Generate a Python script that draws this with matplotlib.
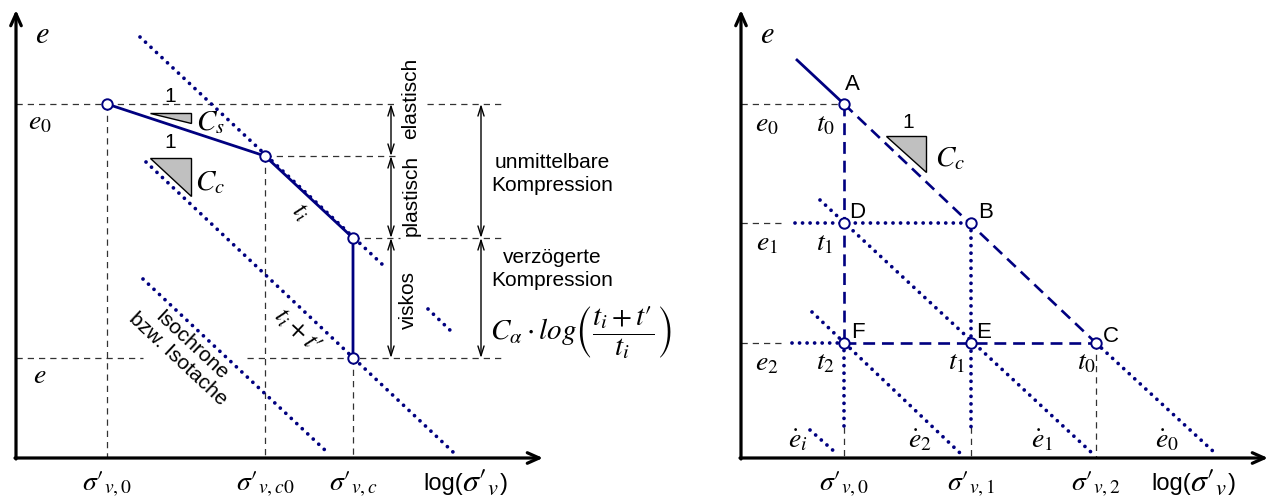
import matplotlib
matplotlib.use("Agg")
import matplotlib.pyplot as plt
from matplotlib.patches import Polygon

plt.rcParams["mathtext.fontset"] = "stix"
plt.rcParams["font.family"] = ["Liberation Sans", "DejaVu Sans"]

NAVY = "#000080"
W, H = 1273, 500
PR = "\u2032"  # prime sign

# ---------------- left diagram: e - log(sigma'_v) with creep ----------------
axis_left = dict(x0=16, y0=458, xtip=543, ytip=10)
sig_left = [107, 265, 353]
sig_left_labels = ["$\\sigma" + PR + "_{v,\\mathit{0}}$",
                   "$\\sigma" + PR + "_{v,c\\mathit{0}}$",
                   "$\\sigma" + PR + "_{v,c}$"]
e_left = [104, 156, 238, 358]
path_x = [107, 265, 353, 353]
path_y = [104, 156, 238, 358]
iso_left = [((140, 37), (384, 266)),
            ((146, 162), (453, 452)),
            ((143, 279), (327, 452)),
            ((428, 309), (453, 333))]

# ---------------- right diagram: isotaches ----------------
axis_right = dict(x0=741, y0=458, xtip=1268, ytip=10)
pts = {"A": (844, 104), "B": (971, 223), "C": (1096, 343),
       "D": (844, 223), "E": (971, 343), "F": (844, 343)}
sig_right = [844, 971, 1096]
sig_right_labels = ["$\\sigma" + PR + "_{v,\\mathit{0}}$",
                    "$\\sigma" + PR + "_{v,\\mathit{1}}$",
                    "$\\sigma" + PR + "_{v,\\mathit{2}}$"]
e_right = [104, 223, 343]
iso_right = [((820, 200), (1092, 453)),
             ((812, 312), (960, 453)),
             ((1096, 343), (1215, 453)),
             ((810, 430), (836, 453))]

fig = plt.figure(figsize=(W / 100, H / 100), dpi=100)
ax = fig.add_axes([0, 0, 1, 1])
ax.set_xlim(0, W)
ax.set_ylim(H, 0)
ax.axis("off")

DOT = dict(color=NAVY, lw=2.7, linestyle=(0, (0.01, 2.0)), dash_capstyle="round", zorder=3)
NDASH = dict(color=NAVY, lw=1.9, linestyle=(0, (4.5, 2.6)), zorder=3)
KDASH = dict(color="#333333", lw=0.9, linestyle=(0, (5, 4)), zorder=1)
SOLID = dict(color=NAVY, lw=2.0, zorder=4)
CIRC = dict(marker="o", ms=7.5, mfc="white", mec=NAVY, mew=1.4, ls="none", zorder=6)
MATH = dict(fontsize=20, color="black")
SANS = dict(fontsize=15, color="black")


def axes_arrows(a):
    kw = dict(arrowstyle="->,head_length=0.85,head_width=0.38", lw=2.3, color="black",
              shrinkA=0, shrinkB=0)
    ax.annotate("", xy=(a["x0"], a["ytip"]), xytext=(a["x0"], a["y0"] + 1), arrowprops=kw)
    ax.annotate("", xy=(a["xtip"], a["y0"]), xytext=(a["x0"] - 1, a["y0"]), arrowprops=kw)


def dbl(x, y1, y2):
    ax.annotate("", xy=(x, y1), xytext=(x, y2),
                arrowprops=dict(arrowstyle="<->,head_length=0.7,head_width=0.22", lw=1.0,
                                color="black", shrinkA=0, shrinkB=0))


def slope_tri(x0, y0, x1, y1):
    ax.add_patch(Polygon([(x0, y0), (x1, y0), (x1, y1)], closed=True,
                         facecolor="#c0c0c0", edgecolor="black", lw=1.0, zorder=2))


def log_label(x, y):
    # sans "log(" and ")" around a larger serif sigma'
    ax.text(x - 9, y, "log(", ha="right", va="center", fontsize=17)
    ax.text(x - 10, y - 1, "$\\sigma" + PR + "_v$", ha="left", va="center", fontsize=23)
    ax.text(x + 28, y, ")", ha="left", va="center", fontsize=17)


# ---- left diagram ----
axes_arrows(axis_left)
ax.text(42, 35, r"$e$", ha="center", va="center", fontsize=22)

# helper dashed lines
ax.plot([16, 397], [e_left[0]] * 2, **KDASH)
ax.plot([427, 503], [e_left[0]] * 2, **KDASH)
ax.plot([path_x[1], 397], [e_left[1]] * 2, **KDASH)
ax.plot([path_x[2], 400], [e_left[2]] * 2, **KDASH)
ax.plot([427, 503], [e_left[2]] * 2, **KDASH)
ax.plot([16, 143], [e_left[3]] * 2, **KDASH)
ax.plot([247, 503], [e_left[3]] * 2, **KDASH)
ax.plot([sig_left[0]] * 2, [e_left[0], axis_left["y0"]], **KDASH)
ax.plot([sig_left[1]] * 2, [e_left[1], axis_left["y0"]], **KDASH)
ax.plot([sig_left[2]] * 2, [e_left[3], axis_left["y0"]], **KDASH)

for (p, q) in iso_left:
    ax.plot([p[0], q[0]], [p[1], q[1]], **DOT)

ax.plot(path_x, path_y, **SOLID)
ax.plot(path_x, path_y, **CIRC)

slope_tri(150, 113, 191, 123)
ax.text(170, 97, "1", ha="center", va="center", **SANS)
ax.text(196, 122, r"$C_s$", ha="left", va="center", fontsize=21)
slope_tri(150, 158, 191, 196)
ax.text(170, 142, "1", ha="center", va="center", **SANS)
ax.text(195, 182, r"$C_c$", ha="left", va="center", fontsize=21)

ax.text(40, 122, r"$e_{\mathit{0}}$", ha="center", va="center", **MATH)
ax.text(40, 376, r"$e$", ha="center", va="center", **MATH)

ax.text(300, 212, r"$t_i$", ha="center", va="center", rotation=-43, fontsize=19)
ax.text(297, 331, "$t_i + t" + PR + "$", ha="center", va="center", rotation=-43, fontsize=19)
ax.text(185, 352, "Isochrone\nbzw. Isotache", ha="center", va="center", rotation=-43,
        multialignment="center", linespacing=1.05, **SANS)

dbl(391, e_left[0], e_left[1])
dbl(391, e_left[1], e_left[2])
dbl(391, e_left[2], e_left[3])
dbl(481, e_left[0], e_left[2])
dbl(481, e_left[2], e_left[3])
ax.text(411, 98, "elastisch", ha="center", va="center", rotation=90, **SANS)
ax.text(411, 195, "plastisch", ha="center", va="center", rotation=90, **SANS)
ax.text(408, 300, "viskos", ha="center", va="center", rotation=90, **SANS)
ax.text(552, 174, "unmittelbare\nKompression", ha="center", va="center",
        multialignment="center", linespacing=1.3, **SANS)
ax.text(552, 269, "verzögerte\nKompression", ha="center", va="center",
        multialignment="center", linespacing=1.3, **SANS)
ax.text(581, 333, "$C_\\alpha \\cdot log\\left(\\dfrac{t_i+t" + PR + "}{t_i}\\right)$",
        ha="center", va="center", fontsize=21)

for x, lab in zip(sig_left, sig_left_labels):
    ax.text(x, 484, lab, ha="center", va="center", **MATH)
log_label(472, 484)

# ---- right diagram ----
axes_arrows(axis_right)
ax.text(767, 35, r"$e$", ha="center", va="center", fontsize=22)

ax.plot([741, pts["A"][0]], [e_right[0]] * 2, **KDASH)
ax.plot([741, 786], [e_right[1]] * 2, **KDASH)
ax.plot([741, 783], [e_right[2]] * 2, **KDASH)
ax.plot([sig_right[0]] * 2, [427, axis_right["y0"]], **KDASH)
ax.plot([sig_right[1]] * 2, [427, axis_right["y0"]], **KDASH)
ax.plot([sig_right[2]] * 2, [pts["C"][1], axis_right["y0"]], **KDASH)

for (p, q) in iso_right:
    ax.plot([p[0], q[0]], [p[1], q[1]], **DOT)
ax.plot([795, pts["B"][0]], [e_right[1]] * 2, **DOT)
ax.plot([792, pts["F"][0]], [e_right[2]] * 2, **DOT)
ax.plot([pts["B"][0]] * 2, [pts["B"][1], 427], **DOT)
ax.plot([pts["F"][0]] * 2, [pts["F"][1], 427], **DOT)

ax.plot([797, pts["A"][0]], [60, pts["A"][1]], **SOLID)
ax.plot([pts["A"][0], pts["C"][0]], [pts["A"][1], pts["C"][1]], **NDASH)
ax.plot([pts["A"][0], pts["F"][0]], [pts["A"][1], pts["F"][1]], **NDASH)
ax.plot([pts["F"][0], pts["C"][0]], [pts["F"][1], pts["C"][1]], **NDASH)

for k in ["A", "B", "C", "D", "E", "F"]:
    ax.plot([pts[k][0]], [pts[k][1]], **CIRC)

label_off = {"A": (8, -20), "B": (15, -11), "C": (15, -6), "D": (13, -11), "E": (13, -11), "F": (14, -11)}
for k, (dx, dy) in label_off.items():
    ax.text(pts[k][0] + dx, pts[k][1] + dy, k, ha="center", va="center", fontsize=16)

slope_tri(886, 136, 926, 172)
ax.text(908, 123, "1", ha="center", va="center", **SANS)
ax.text(935, 158, r"$C_c$", ha="left", va="center", fontsize=21)

for y, lab in zip(e_right, [r"$e_{\mathit{0}}$", r"$e_{\mathit{1}}$", r"$e_{\mathit{2}}$"]):
    ax.text(767, y + 20, lab, ha="center", va="center", **MATH)
t_labels = [(826, 124, r"$t_{\mathit{0}}$"), (825, 243, r"$t_{\mathit{1}}$"),
            (825, 362, r"$t_{\mathit{2}}$"), (957, 362, r"$t_{\mathit{1}}$"),
            (1087, 362, r"$t_{\mathit{0}}$")]
for x, y, lab in t_labels:
    ax.text(x, y, lab, ha="center", va="center", **MATH)
edot = [(798, 440, r"$\dot{e}_i$"), (920, 440, r"$\dot{e}_{\mathit{2}}$"),
        (1042, 440, r"$\dot{e}_{\mathit{1}}$"), (1167, 440, r"$\dot{e}_{\mathit{0}}$")]
for x, y, lab in edot:
    ax.text(x, y, lab, ha="center", va="center", **MATH)

for x, lab in zip(sig_right, sig_right_labels):
    ax.text(x, 484, lab, ha="center", va="center", **MATH)
log_label(1200, 484)

fig.savefig("out.png", dpi=100)
